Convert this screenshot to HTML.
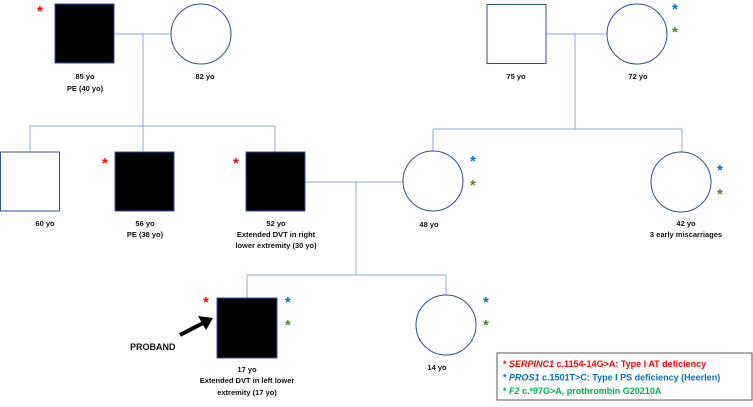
<!DOCTYPE html>
<html><head><meta charset="utf-8"><style>
html,body{margin:0;padding:0;background:#fff;}
svg text{font-family:"Liberation Sans",sans-serif;font-weight:bold;font-size:7.5px;fill:#111;}
.a{font-size:15px;font-weight:bold;}
</style></head><body>
<svg width="753" height="402" viewBox="0 0 753 402" xmlns="http://www.w3.org/2000/svg">
<g stroke="#8eaadb" stroke-width="1" fill="none">
<line x1="114" y1="34" x2="172" y2="34"/>
<line x1="143" y1="34" x2="143" y2="126"/>
<line x1="30" y1="126" x2="275" y2="126"/>
<line x1="30" y1="126" x2="30" y2="152"/>
<line x1="143" y1="126" x2="143" y2="152"/>
<line x1="275" y1="126" x2="275" y2="152"/>
<line x1="546" y1="34" x2="607" y2="34"/>
<line x1="575" y1="34" x2="575" y2="129"/>
<line x1="433" y1="129" x2="682" y2="129"/>
<line x1="433" y1="129" x2="433" y2="151"/>
<line x1="682" y1="129" x2="682" y2="152"/>
<line x1="305" y1="182" x2="403" y2="182"/>
<line x1="356" y1="182" x2="356" y2="275"/>
<line x1="247" y1="275" x2="446" y2="275"/>
<line x1="247" y1="275" x2="247" y2="298"/>
<line x1="446" y1="275" x2="446" y2="295"/>
</g>
<g stroke="#2f4f9f" stroke-width="1">
<rect x="55" y="4" width="59" height="59" fill="#000"/>
<circle cx="201" cy="34" r="30" fill="#fff"/>
<rect x="487" y="4.5" width="59" height="59" fill="#fff"/>
<circle cx="637" cy="34" r="30" fill="#fff"/>
<rect x="0.5" y="152" width="59" height="59" fill="#fff"/>
<rect x="115" y="152" width="59" height="59" fill="#000"/>
<rect x="246" y="152" width="59" height="59" fill="#000"/>
<circle cx="433" cy="181" r="30" fill="#fff"/>
<circle cx="681" cy="182" r="30" fill="#fff"/>
<rect x="217" y="298" width="60" height="60" fill="#000"/>
<circle cx="446" cy="325" r="30" fill="#fff"/>
</g>
<g text-anchor="middle">
<text x="85" y="79">85 yo</text><text x="85" y="91">PE (40 yo)</text>
<text x="205" y="79">82 yo</text>
<text x="516" y="79">75 yo</text>
<text x="638" y="79">72 yo</text>
<text x="45" y="226">60 yo</text>
<text x="145" y="226">56 yo</text><text x="145" y="237">PE (38 yo)</text>
<text x="276" y="226">52 yo</text><text x="276" y="237">Extended DVT in right</text><text x="276" y="248">lower extremity (30 yo)</text>
<text x="429" y="227">48 yo</text>
<text x="686" y="226">42 yo</text><text x="686" y="237">3 early miscarriages</text>
<text x="247" y="372">17 yo</text><text x="247" y="383">Extended DVT in left lower</text><text x="247" y="395">extremity (17 yo)</text>
<text x="437" y="370">14 yo</text>
</g>
<text x="130" y="350" style="font-size:9px">PROBAND</text>
<line x1="180" y1="335" x2="205" y2="322" stroke="#000" stroke-width="4"/>
<polygon points="213,318 198,316 206,330" fill="#000"/>
<g class="a">
<text class="a" x="37" y="16" style="fill:#ff0000">*</text>
<text class="a" x="102" y="168" style="fill:#ff0000">*</text>
<text class="a" x="233" y="168" style="fill:#ff0000">*</text>
<text class="a" x="203" y="307" style="fill:#ff0000">*</text>
<text class="a" x="672" y="14" style="fill:#0070c0">*</text>
<text class="a" x="672" y="37" style="fill:#548235">*</text>
<text class="a" x="470" y="166" style="fill:#0070c0">*</text>
<text class="a" x="470" y="190" style="fill:#548235">*</text>
<text class="a" x="717" y="175" style="fill:#0070c0">*</text>
<text class="a" x="717" y="199" style="fill:#548235">*</text>
<text class="a" x="285" y="307" style="fill:#0070c0">*</text>
<text class="a" x="285" y="330" style="fill:#548235">*</text>
<text class="a" x="483" y="307" style="fill:#0070c0">*</text>
<text class="a" x="483" y="330" style="fill:#548235">*</text>
</g>
<rect x="497" y="353" width="255" height="47" fill="#fff" stroke="#595959" stroke-width="1"/>
<text x="503" y="367" style="fill:#ff0000;font-size:9px">* <tspan font-style="italic">SERPINC1</tspan> c.1154-14G&gt;A: Type I AT deficiency</text>
<text x="503" y="380.5" style="fill:#0070c0;font-size:9px">* <tspan font-style="italic">PROS1</tspan> c.1501T&gt;C: Type I PS deficiency (Heerlen)</text>
<text x="503" y="394" style="fill:#00b050;font-size:9px">* <tspan font-style="italic">F2</tspan> c.*97G&gt;A, prothrombin G20210A</text>
</svg>
</body></html>
